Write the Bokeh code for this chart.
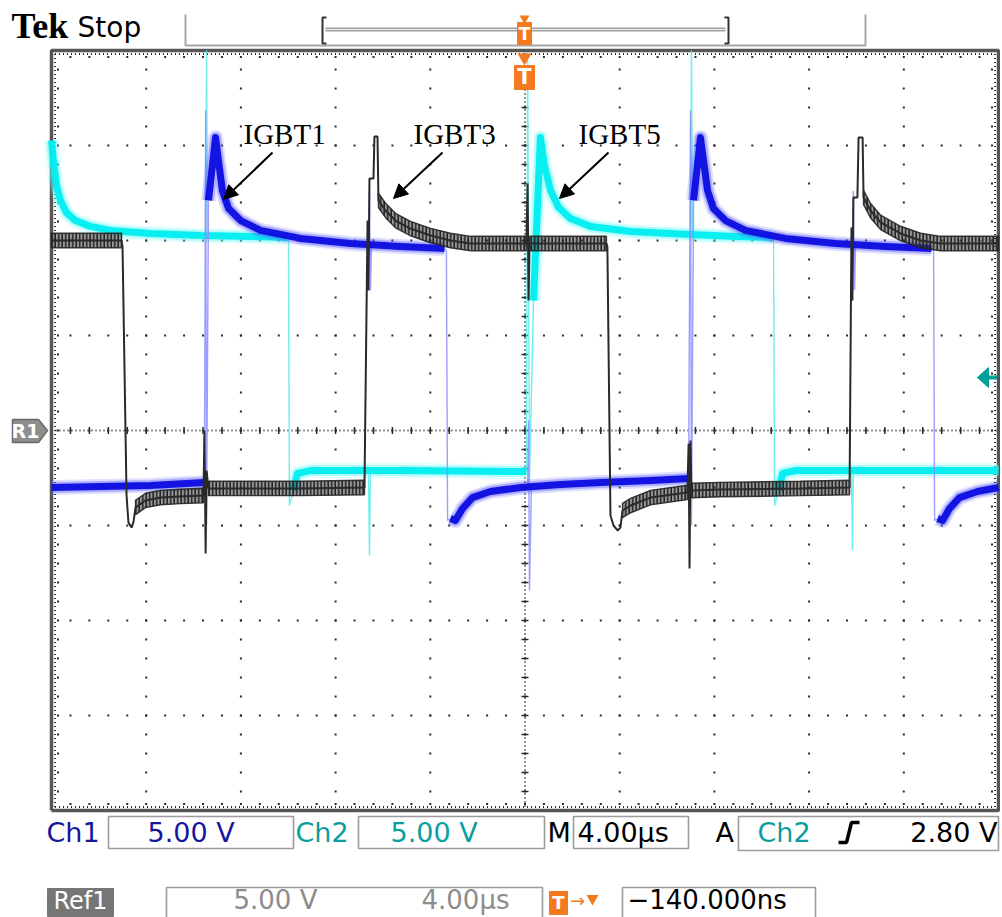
import math
from bokeh.plotting import figure
from bokeh.models import Range1d, Label, Arrow, NormalHead
from bokeh.embed import file_html
from bokeh.resources import INLINE

NaN = float("nan")

# ---------------- data: time in µs (4 µs/div), voltage in V (5 V/div) ----------------
# Ch1 (blue) — noisy band part of the trace
ch1_band_t = [-20.00, -17.93, -15.82, -13.54, NaN,
              -13.37, -13.07, -12.95, -12.78, -12.52, -12.01, -11.17, -9.48, -7.37, -5.26, -3.40, NaN,
              -3.15, -2.94, -2.64, -2.22, -1.46, -0.19, 1.50, 3.19, 5.30, 6.91, NaN,
              7.12, 7.41, 7.54, 7.71, 7.96, 8.47, 9.31, 11.00, 13.12, 15.23, 17.17, NaN,
              17.43, 17.64, 17.93, 18.35, 19.11, 20.00]
ch1_band_v = [-3.00, -2.95, -2.89, -2.74, NaN,
              12.11, 15.42, 14.21, 12.63, 11.68, 11.05, 10.53, 10.11, 9.84, 9.68, 9.58, NaN,
              -4.63, -4.74, -4.11, -3.53, -3.21, -3.00, -2.84, -2.74, -2.63, -2.53, NaN,
              12.11, 15.42, 14.21, 12.63, 11.68, 11.05, 10.53, 10.11, 9.84, 9.68, 9.58, NaN,
              -4.63, -4.74, -4.11, -3.53, -3.21, -3.00]
# Ch1 fast edges / spikes (thin, faint)
ch1_edge_t = [-13.54, -13.49, -13.45, -13.37, NaN, -6.61, -6.57, -6.53, -6.48, NaN,
              -3.40, -3.32, -3.27, -3.15, NaN, 0.11, 0.15, 0.19, 0.27, NaN,
              6.91, 6.99, 7.03, 7.12, NaN, 13.83, 13.87, 13.92, 13.96, NaN,
              17.17, 17.26, 17.30, 17.43]
ch1_edge_v = [-2.74, 16.84, -5.00, 12.11, NaN, 9.84, 12.63, 7.37, 9.84, NaN,
              9.58, 9.47, -4.74, -4.63, NaN, -3.00, 0.53, -8.42, -3.00, NaN,
              -2.53, 16.84, -5.00, 12.11, NaN, 9.68, 12.60, 7.40, 9.68, NaN,
              9.58, 9.47, -4.74, -4.63]

# Ch2 (cyan)
ch2_band_t = [-20.00, -19.92, -19.79, -19.62, -19.37, -18.99, -18.35, -17.51, -15.82, -13.71, -11.59, -10.03, NaN,
              -9.78, -9.61, -9.06, -5.26, 0.06, NaN,
              0.36, 0.65, 0.82, 1.08, 1.42, 1.92, 2.77, 4.46, 6.99, 8.89, 10.45, NaN,
              10.71, 10.88, 11.43, 15.86, 20.00]
ch2_band_v = [15.26, 14.21, 12.89, 12.11, 11.47, 11.05, 10.74, 10.53, 10.37, 10.26, 10.21, 10.16, NaN,
              -3.16, -2.26, -2.11, -2.11, -2.16, NaN,
              6.84, 15.42, 13.95, 12.63, 11.74, 11.16, 10.74, 10.47, 10.32, 10.21, 10.16, NaN,
              -3.16, -2.26, -2.11, -2.11, -2.11]
ch2_edge_t = [-13.49, -13.45, -13.41, NaN, -10.03, -9.99, -9.95, -9.78, NaN,
              -6.61, -6.57, -6.53, NaN, 0.06, 0.11, 0.19, 0.36, NaN,
              6.99, 7.03, 7.08, NaN, 10.45, 10.50, 10.54, 10.71, NaN,
              13.79, 13.83, 13.87]
ch2_edge_v = [10.26, 20.00, 10.26, NaN, 10.16, 10.00, -3.95, -3.16, NaN,
              -2.21, -6.58, -2.21, NaN, -2.16, 19.89, -2.63, 6.84, NaN,
              10.32, 20.00, 10.32, NaN, 10.16, 10.00, -3.95, -3.16, NaN,
              -2.21, -6.32, -2.21]

# Ref1 (black) key points
ref1_t = [-20.00, -17.04, -17.00, -16.83, -16.75, -16.62, -16.54, -16.45, -16.03, -15.40, -14.55, -13.58,
          -13.54, -13.49, -13.45, -13.37, -11.59, -9.48, -6.78,
          -6.65, -6.61, -6.57, -6.40, -6.36, -6.23, -6.19, -5.89, -5.47, -4.84, -3.99, -3.15, -2.30, 0.06,
          0.11, 0.15, 0.19, 1.50, 3.44,
          3.48, 3.61, 3.74, 3.91, 4.03, 4.12, 4.46, 5.30, 6.86,
          6.91, 6.95, 6.99, 7.03, 8.26, 11.64, 13.71,
          13.79, 13.83, 13.87, 14.04, 14.09, 14.26, 14.30, 14.59, 15.02, 15.86, 16.71, 17.55, 20.00]
ref1_v = [10.00, 10.00, 9.68, -3.42, -4.84, -5.11, -4.84, -4.05, -3.68, -3.53, -3.47, -3.42,
          0.00, -6.47, -2.11, -3.05, -3.05, -3.05, -3.00,
          11.05, 7.37, 13.26, 13.26, 15.47, 15.47, 12.11, 11.58, 11.05, 10.63, 10.26, 10.00, 9.84, 9.84,
          13.00, 6.84, 9.84, 9.84, 9.84,
          9.68, -4.47, -5.00, -5.26, -5.11, -4.21, -3.95, -3.53, -3.26,
          -0.68, -7.26, -0.53, -3.16, -3.11, -3.05, -3.00,
          10.68, 6.84, 12.26, 12.26, 15.42, 15.42, 12.26, 11.58, 10.95, 10.37, 10.00, 9.84, 9.84]
# time spans where the Ref1 trace shows its quantisation ripple
ref1_ripple_spans = [(-20.00, -17.04), (-16.45, -13.58), (-13.37, -6.78), (-6.19, 0.06),
                     (0.19, 3.44), (4.12, 6.86), (7.03, 13.71), (14.30, 20.00)]

# ---------------- layout ----------------
W, H = 1000, 917
GX0, GX1 = 51, 998          # graticule left/right (canvas px)
GY0, GY1 = 50, 810          # graticule top/bottom (canvas px from top)
T0, T1, V0, V1 = -20.0, 20.0, -20.0, 20.0
SX = (GX1 - GX0) / (T1 - T0)
SY = (GY1 - GY0) / (V1 - V0)


def X(px):  # canvas x pixel -> data x
    return T0 + (px - GX0) / SX


def Y(py):  # canvas y pixel (from top) -> data y
    return V1 - (py - GY0) / SY


p = figure(width=W, height=H, output_backend="svg", toolbar_location=None,
           x_range=Range1d(T0 - GX0 / SX, T1 + (W - GX1) / SX),
           y_range=Range1d(V0 - (H - GY1) / SY, V1 + GY0 / SY),
           x_axis_location=None, y_axis_location=None, min_border=0)
p.min_border_left = p.min_border_right = p.min_border_top = p.min_border_bottom = 0
p.grid.visible = False
p.outline_line_color = None
p.background_fill_color = "white"
p.border_fill_color = "white"

DOT = "#2a2a2a"
# graticule dots on division lines
dx, dy = [], []
for k in range(1, 10):
    for j in range(1, 40):
        dx.append(T0 + 4 * k); dy.append(V0 + j * 1.0)
for k in range(1, 8):
    for i in range(1, 50):
        dx.append(T0 + i * 0.8); dy.append(V0 + 5 * k)
p.scatter(dx, dy, marker="square", size=2, color=DOT, line_color=None)

# centre lines (dense dots + ticks)
p.line([0, 0], [V0, V1], line_dash="1 3", line_color=DOT, line_width=2)
p.line([T0, T1], [0, 0], line_dash="1 3", line_color=DOT, line_width=2)
p.scatter([0] * 39, [V0 + j for j in range(1, 40)], marker="dash", size=7, line_color=DOT, line_width=1.5)
p.scatter([T0 + 0.8 * i for i in range(1, 50)], [0] * 49, marker="dash", angle=math.pi / 2,
          size=7, line_color=DOT, line_width=1.5)

# border ruler
ox, oy = 3.5 / SX, 3.5 / SY
p.line([T0 + ox, T1 - ox], [V1 - oy, V1 - oy], line_dash="1 3", line_color=DOT, line_width=2)
p.line([T0 + ox, T1 - ox], [V0 + oy, V0 + oy], line_dash="1 3", line_color=DOT, line_width=2)
p.line([T0 + ox, T0 + ox], [V0 + oy, V1 - oy], line_dash="1 3", line_color=DOT, line_width=2)
p.line([T1 - ox, T1 - ox], [V0 + oy, V1 - oy], line_dash="1 3", line_color=DOT, line_width=2)
tx, ty = 6.5 / SX, 6.5 / SY
bx, by = [], []
for i in range(1, 50):
    bx += [T0 + 0.8 * i, T0 + 0.8 * i]; by += [V1 - ty, V0 + ty]
for j in range(1, 40):
    bx += [T0 + tx, T1 - tx]; by += [V0 + j, V0 + j]
p.scatter(bx, by, marker="square", size=2, color=DOT, line_color=None)
p.line([T0, T1, T1, T0, T0], [V0, V0, V1, V1, V0], line_color="#555555", line_width=3.5)

# ---------------- traces ----------------
CY_CORE, CY_HALO = "#00eef0", "#70f8f8"
BL_CORE, BL_HALO = "#0c0ce0", "#5a5aff"
p.line(ch2_edge_t, ch2_edge_v, line_color="#5eecec", line_width=1.4, line_alpha=0.9)
p.line(ch2_band_t, ch2_band_v, line_color=CY_HALO, line_width=15, line_alpha=0.2, line_join="round")
p.line(ch2_band_t, ch2_band_v, line_color=CY_HALO, line_width=11, line_alpha=0.4, line_join="round")
p.line(ch2_band_t, ch2_band_v, line_color=CY_CORE, line_width=7, line_alpha=0.95, line_join="round")

p.line(ch1_edge_t, ch1_edge_v, line_color="#8c8cff", line_width=1.4, line_alpha=0.85)
p.line(ch1_band_t, ch1_band_v, line_color=BL_HALO, line_width=15, line_alpha=0.18, line_join="round")
p.line(ch1_band_t, ch1_band_v, line_color=BL_HALO, line_width=11, line_alpha=0.4, line_join="round")
p.line(ch1_band_t, ch1_band_v, line_color=BL_CORE, line_width=7, line_alpha=0.95, line_join="round")

RIP = 0.38
rip_xs, rip_ys = [], []
for a, b in ref1_ripple_spans:
    pts = [(t, v) for t, v in zip(ref1_t, ref1_v) if a - 1e-9 <= t <= b + 1e-9]
    ts = [t for t, _ in pts]
    vs = [v for _, v in pts]
    rip_xs.append(ts + ts[::-1])
    rip_ys.append([v + RIP for v in vs] + [v - RIP for v in vs[::-1]])
p.patches(rip_xs, rip_ys, fill_color="#333333", fill_alpha=0.5, hatch_pattern="vertical_line",
          hatch_scale=3.5, hatch_weight=1.6, hatch_color="#222222", line_color="#262626",
          line_width=1.4, line_alpha=0.9)
p.line(ref1_t, ref1_v, line_color="#2a2a2a", line_width=2)

# ---------------- annotations ----------------


def lab(txt, px, py, size, color, font="DejaVu Sans", bold=False, align="left"):
    # py is the wanted baseline in canvas px; compensate for label baseline placement
    p.add_layout(Label(x=X(px), y=Y(py - 0.4 * size), text=txt, text_font=font,
                       text_font_size=f"{size}px", text_color=color,
                       text_font_style="bold" if bold else "normal",
                       text_align=align, text_baseline="alphabetic"))


for name, lx, ax0, ay0, ax1, ay1 in [("IGBT1", 243, 272, 152, 223, 199),
                                     ("IGBT3", 413, 442, 152, 393, 198),
                                     ("IGBT5", 578, 608, 152, 559, 198)]:
    lab(name, lx, 145, 29, "black", font="Liberation Serif")
    p.add_layout(Arrow(x_start=X(ax0), y_start=Y(ay0), x_end=X(ax1), y_end=Y(ay1), line_width=2,
                       line_color="black",
                       end=NormalHead(size=14, fill_color="black", line_color="black")))

# header
lab("Tek", 11, 40, 36, "black", font="Liberation Serif", bold=True)
lab("Stop", 77, 38, 28, "black")
GRAYL = "#a6a6a6"
p.line([X(185), X(185), X(865), X(865)], [Y(14), Y(45), Y(45), Y(14)], line_color=GRAYL, line_width=2)
p.line([X(325), X(725)], [Y(29), Y(29)], line_color="#a0a0a0", line_width=4)
p.line([X(325), X(725)], [Y(29), Y(29)], line_color="#eeeeee", line_width=1.2)
p.line([X(326), X(322), X(322), X(326)], [Y(17), Y(17), Y(43), Y(43)], line_color="#333333", line_width=2)
p.line([X(724), X(728), X(728), X(724)], [Y(17), Y(17), Y(43), Y(43)], line_color="#333333", line_width=2)
ORANGE = "#f37a1f"
p.scatter([X(524)], [Y(18)], marker="inverted_triangle", size=10, color=ORANGE, line_color=None)
p.quad(left=X(517), right=X(531), top=Y(22), bottom=Y(44), fill_color=ORANGE, line_color=ORANGE)
lab("T", 524, 40, 17, "white", bold=True, align="center")
p.scatter([X(524)], [Y(57)], marker="inverted_triangle", size=14, color=ORANGE, line_color=None)
p.quad(left=X(514), right=X(534), top=Y(65), bottom=Y(89), fill_color=ORANGE, line_color=ORANGE)
lab("T", 524, 85, 21, "white", bold=True, align="center")

# R1 ground marker
p.patch([X(12), X(38), X(47), X(38), X(12)], [Y(419), Y(419), Y(430), Y(442), Y(442)],
        fill_color="#8e8e8e", line_color="#6a6a6a", line_width=1.5)
lab("R1", 25, 438, 19, "white", bold=True, align="center")

# trigger-level arrow (right)
TEAL = "#009f98"
p.patch([X(977), X(988), X(988)], [Y(377), Y(367), Y(387)], fill_color=TEAL, line_color=TEAL)
p.line([X(987), X(997)], [Y(377), Y(377)], line_color=TEAL, line_width=4)

# footer row 1
BOXC = "#9c9c9c"
NAVY = "#16169c"
TEAL2 = "#0a9e9e"


def box(l, r, t, b):
    p.quad(left=X(l), right=X(r), top=Y(t), bottom=Y(b), fill_color=None, line_color=BOXC, line_width=1.6)


lab("Ch1", 46, 843, 27, NAVY)
box(108, 293, 816, 848)
lab("5.00 V", 147, 843, 27, NAVY)
lab("Ch2", 295, 843, 27, TEAL2)
box(358, 544, 816, 848)
lab("5.00 V", 390, 843, 27, TEAL2)
lab("M", 547, 843, 27, "black")
box(573, 688, 816, 848)
lab("4.00µs", 577, 843, 27, "black")
lab("A", 715, 843, 27, "black")
box(738, 998, 816, 850)
lab("Ch2", 757, 843, 27, TEAL2)
p.line([X(838), X(846), X(851), X(859)], [Y(842), Y(842), Y(822), Y(822)], line_color="black", line_width=3.5)
lab("2.80 V", 997, 843, 27, "black", align="right")

# footer row 2
p.quad(left=X(47), right=X(113), top=Y(888), bottom=Y(916), fill_color="#767676", line_color="#767676")
lab("Ref1", 80, 910, 24, "white", align="center")
box(166, 542, 887, 922)
lab("5.00 V", 233, 910, 26, "#8c8c8c")
lab("4.00µs", 421, 910, 26, "#8c8c8c")
p.quad(left=X(549), right=X(567), top=Y(891), bottom=Y(914), fill_color=ORANGE, line_color=ORANGE)
lab("T", 558, 909, 18, "white", bold=True, align="center")
lab("→", 577, 907, 18, ORANGE, align="center")
p.scatter([X(592)], [Y(898)], marker="inverted_triangle", size=12, color=ORANGE, line_color=None)
box(622, 815, 887, 922)
lab("−140.000ns", 627, 910, 26, "black")

open("out.html", "w").write(file_html(p, INLINE))
